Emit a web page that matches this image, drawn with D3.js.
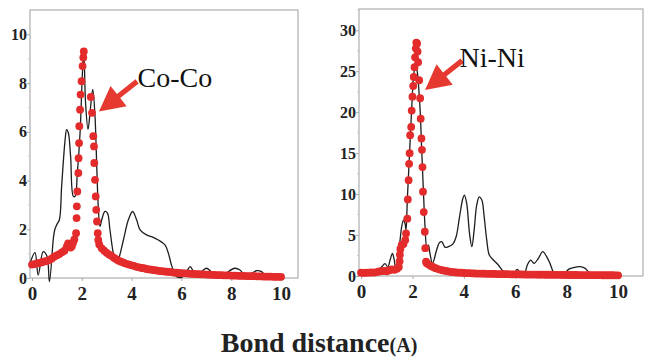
<!DOCTYPE html>
<html>
<head>
<meta charset="utf-8">
<script src="https://cdn.jsdelivr.net/npm/d3@7"></script>
<style>
body { margin: 0; background: #fff; }
svg { display: block; }
</style>
</head>
<body>
<svg class="chart"></svg>
<script>
// tick values
const xTicks = [0, 2, 4, 6, 8, 10];
const coTicksY = [0, 2, 4, 6, 8, 10];
const niTicksY = [0, 5, 10, 15, 20, 25, 30];
const labelNames = ["Co-Co", "Ni-Ni"];

// Co-Co: black curve (x, value)
const coLine = [
	[-0.08, 0.6], [0.12, 1.04], [0.25, 0.12], [0.45, 1.08], [0.6, 0.9], [0.7, -0.15],
	[0.86, 1.64], [0.92, 2.0], [0.99, 2.18], [1.1, 2.39], [1.19, 3.76], [1.33, 5.68],
	[1.39, 6.09], [1.46, 5.95], [1.55, 4.99], [1.66, 3.35], [1.73, 3.35], [1.82, 4.31],
	[1.93, 5.95], [2.02, 8.3], [2.08, 9.3], [2.15, 7.2], [2.25, 6.1], [2.35, 7.0],
	[2.44, 7.74], [2.53, 6.64], [2.6, 4.58], [2.66, 2.94], [2.73, 2.11], [2.8, 2.39],
	[2.93, 2.73], [3.03, 2.66], [3.13, 1.98], [3.27, 1.0], [3.4, 0.6], [3.47, 0.74],
	[3.67, 1.56], [3.87, 2.39], [4.04, 2.73], [4.2, 2.39], [4.34, 1.98], [4.6, 1.77],
	[4.87, 1.67], [5.07, 1.56], [5.34, 1.36], [5.48, 1.0], [5.6, 0.53], [5.7, 0.26],
	[5.81, 0.05], [6.0, 0.03], [6.21, 0.26], [6.35, 0.47], [6.48, 0.26], [6.61, 0.05],
	[6.81, 0.26], [7.0, 0.4], [7.2, 0.26], [7.4, 0.08], [7.68, 0.05], [7.88, 0.26],
	[8.15, 0.4], [8.35, 0.33], [8.55, 0.12], [8.82, 0.19], [9.02, 0.3], [9.22, 0.26],
	[9.42, 0.05], [9.83, 0.03], [10.0, 0.02]
];

// Co-Co: red dots (x, value)
const coDots = [
	[0, 0.55], [0.1, 0.57], [0.2, 0.6], [0.3, 0.62], [0.4, 0.65], [0.5, 0.68], [0.6, 0.7],
	[0.7, 0.74], [0.8, 0.8], [0.9, 0.88], [1.0, 0.93], [1.1, 0.98], [1.2, 1.05], [1.3, 1.12],
	[1.4, 1.3], [1.45, 1.42], [1.5, 1.38], [1.55, 1.25], [1.6, 1.3], [1.65, 1.45], [1.7, 1.58],
	[1.77, 1.84], [1.79, 2.46], [1.8, 2.94], [1.82, 3.55], [1.86, 4.31], [1.87, 4.92],
	[1.89, 5.54], [1.9, 6.23], [1.93, 6.91], [1.95, 7.53], [1.99, 8.08], [2.03, 8.7],
	[2.06, 9.05], [2.08, 9.3],
	[2.36, 7.43], [2.41, 6.78], [2.46, 5.82], [2.49, 5.4], [2.5, 4.72], [2.53, 4.03],
	[2.56, 3.35], [2.58, 2.8], [2.61, 2.32], [2.64, 1.84], [2.66, 1.56], [2.7, 1.38],
	[2.8, 1.22], [2.9, 1.12], [3.0, 1.03], [3.1, 0.96], [3.2, 0.9], [3.3, 0.82], [3.4, 0.76],
	[3.5, 0.7], [3.6, 0.66], [3.7, 0.62], [3.8, 0.58], [3.9, 0.55], [4.0, 0.52], [4.1, 0.5],
	[4.2, 0.46], [4.3, 0.44], [4.4, 0.41], [4.5, 0.4], [4.6, 0.37], [4.7, 0.35], [4.8, 0.34],
	[4.9, 0.32], [5.0, 0.31], [5.1, 0.29], [5.2, 0.28], [5.3, 0.27], [5.4, 0.26], [5.5, 0.25],
	[5.6, 0.24], [5.7, 0.22], [5.8, 0.22], [5.9, 0.21], [6.0, 0.2], [6.1, 0.19], [6.2, 0.19],
	[6.3, 0.18], [6.4, 0.17], [6.5, 0.17], [6.6, 0.16], [6.7, 0.16], [6.8, 0.15], [6.9, 0.15],
	[7.0, 0.14], [7.1, 0.14], [7.2, 0.13], [7.3, 0.13], [7.4, 0.12], [7.5, 0.12], [7.6, 0.12],
	[7.7, 0.11], [7.8, 0.11], [7.9, 0.11], [8.0, 0.1], [8.1, 0.1], [8.2, 0.1], [8.3, 0.09],
	[8.4, 0.09], [8.5, 0.09], [8.6, 0.08], [8.7, 0.08], [8.8, 0.08], [8.9, 0.08], [9.0, 0.07],
	[9.1, 0.07], [9.2, 0.07], [9.3, 0.06], [9.4, 0.06], [9.5, 0.06], [9.6, 0.06], [9.7, 0.05],
	[9.8, 0.05], [9.9, 0.05], [10.0, 0.05]
];

// Ni-Ni: black curve
const niLine = [
	[-0.06, 0.5], [0.2, 0.4], [0.45, 0.45], [0.67, 0.73], [0.8, 1.1], [0.93, 1.5], [1.04, 1.1],
	[1.13, 1.95], [1.22, 2.76], [1.28, 2.15], [1.36, 0.73], [1.49, 3.58], [1.58, 6.0],
	[1.65, 6.83], [1.71, 6.42], [1.75, 5.6], [1.8, 9.3], [1.88, 14.55], [1.96, 19.8],
	[2.04, 24.3], [2.09, 25.3], [2.14, 25.5], [2.19, 24.9], [2.24, 23.1], [2.3, 20.2],
	[2.36, 15.4], [2.43, 10.1], [2.49, 6.0], [2.56, 3.58], [2.62, 3.78], [2.68, 2.76],
	[2.78, 1.54], [2.94, 3.17], [3.05, 4.07], [3.14, 4.2], [3.27, 3.5], [3.4, 3.58],
	[3.57, 3.9], [3.7, 4.8], [3.83, 7.2], [3.96, 9.47], [4.02, 9.88], [4.11, 8.86],
	[4.22, 5.2], [4.31, 3.58], [4.4, 5.6], [4.5, 8.66], [4.6, 9.67], [4.7, 9.27],
	[4.79, 7.24], [4.89, 4.4], [4.99, 2.56], [5.15, 1.95], [5.34, 1.34], [5.54, 0.53],
	[5.73, 0.12], [5.93, 0.24], [6.08, 0.81], [6.23, 0.24], [6.34, 0.12], [6.47, 1.34],
	[6.6, 1.95], [6.73, 1.54], [6.9, 2.15], [7.07, 2.97], [7.22, 2.36], [7.35, 1.54],
	[7.48, 0.53], [7.64, 0.08], [7.87, 0.08], [8.07, 0.81], [8.26, 1.02], [8.52, 1.14],
	[8.72, 0.93], [8.85, 0.53], [9.04, 0.24], [9.23, 0.41], [9.43, 0.24], [9.69, 0.0],
	[10.0, 0.0]
];

// Ni-Ni: red dots
const niDots = [
	[0, 0.4], [0.1, 0.38], [0.2, 0.42], [0.3, 0.4], [0.4, 0.44], [0.5, 0.42], [0.6, 0.48],
	[0.7, 0.55], [0.8, 0.6], [0.9, 0.62], [1.0, 0.58], [1.1, 0.7], [1.2, 0.8], [1.3, 0.75],
	[1.4, 0.9], [1.47, 1.1], [1.5, 1.8], [1.51, 2.6], [1.53, 3.3], [1.58, 3.8], [1.65, 3.9],
	[1.72, 4.4], [1.75, 5.2], [1.8, 7.0], [1.82, 9.35], [1.85, 11.7], [1.87, 13.7],
	[1.89, 15.0], [1.91, 17.2], [1.95, 18.2], [1.97, 20.2], [2.0, 21.9], [2.03, 23.2],
	[2.05, 24.3], [2.08, 25.5], [2.1, 26.7], [2.13, 27.8], [2.15, 28.5], [2.18, 28.4],
	[2.2, 27.4], [2.22, 26.1], [2.26, 23.9], [2.3, 21.7], [2.32, 19.2], [2.35, 16.8],
	[2.37, 15.4], [2.39, 13.3], [2.41, 10.3], [2.44, 7.8], [2.48, 5.4], [2.5, 3.4],
	[2.53, 1.75], [2.55, 1.6], [2.6, 1.45], [2.7, 1.25], [2.8, 1.1], [2.9, 0.95], [3.0, 0.85],
	[3.1, 0.75], [3.2, 0.68], [3.3, 0.62], [3.4, 0.56], [3.5, 0.5], [3.6, 0.47], [3.7, 0.44],
	[3.8, 0.42], [3.9, 0.4], [4.0, 0.38], [4.1, 0.36], [4.2, 0.35], [4.3, 0.33], [4.4, 0.32],
	[4.5, 0.3], [4.6, 0.3], [4.7, 0.29], [4.8, 0.28], [4.9, 0.27], [5.0, 0.26], [5.1, 0.26],
	[5.2, 0.25], [5.3, 0.24], [5.4, 0.24], [5.5, 0.23], [5.6, 0.22], [5.7, 0.22], [5.8, 0.21],
	[5.9, 0.21], [6.0, 0.2], [6.1, 0.2], [6.2, 0.19], [6.3, 0.19], [6.4, 0.18], [6.5, 0.18],
	[6.6, 0.17], [6.7, 0.17], [6.8, 0.17], [6.9, 0.16], [7.0, 0.16], [7.1, 0.16], [7.2, 0.15],
	[7.3, 0.15], [7.4, 0.15], [7.5, 0.14], [7.6, 0.14], [7.7, 0.14], [7.8, 0.13], [7.9, 0.13],
	[8.0, 0.13], [8.1, 0.12], [8.2, 0.12], [8.3, 0.12], [8.4, 0.12], [8.5, 0.11], [8.6, 0.11],
	[8.7, 0.11], [8.8, 0.11], [8.9, 0.1], [9.0, 0.1], [9.1, 0.1], [9.2, 0.1], [9.3, 0.1],
	[9.4, 0.09], [9.5, 0.09], [9.6, 0.09], [9.7, 0.09], [9.8, 0.09], [9.9, 0.08], [10.0, 0.08]
];

const svgSize = { w: 648, h: 361 };
const svg = d3.select("svg.chart").attr("width", svgSize.w).attr("height", svgSize.h);

const red = "#e42b2b";
const serif = "Liberation Serif, Times New Roman, serif";

const panels = [
	{
		line: coLine, dots: coDots, yTicks: coTicksY, label: labelNames[0],
		box: { l: 30, r: 298, t: 10, b: 278 },
		xDomain: [-0.08, 10.68], yDomain: [0, 11], minorStep: 1,
		labelAt: [4.24, 7.84], arrowFrom: [4.22, 8.07], arrowTo: [2.69, 6.83]
	},
	{
		line: niLine, dots: niDots, yTicks: niTicksY, label: labelNames[1],
		box: { l: 359, r: 643, t: 9, b: 276 },
		xDomain: [-0.08, 10.97], yDomain: [0, 32.6], minorStep: 2.5,
		labelAt: [3.83, 25.5], arrowFrom: [3.93, 26.3], arrowTo: [2.49, 22.7]
	}
];

panels.forEach((p) => drawPanel(p));

function drawPanel(p) {
	const g = svg.append("g");
	const x = d3.scaleLinear().domain(p.xDomain).range([p.box.l, p.box.r]);
	const y = d3.scaleLinear().domain(p.yDomain).range([p.box.b, p.box.t]);

	// frame
	g.append("rect")
		.attr("x", p.box.l).attr("y", p.box.t)
		.attr("width", p.box.r - p.box.l).attr("height", p.box.b - p.box.t)
		.attr("fill", "none").attr("stroke", "#b9b9b9").attr("stroke-width", 1.4);

	// minor y ticks
	const minor = d3.range(p.yDomain[0], p.yDomain[1], p.minorStep)
		.filter((v) => p.yTicks.indexOf(v) === -1);
	g.selectAll("line.minor").data(minor).join("line")
		.attr("x1", p.box.l - 2).attr("x2", p.box.l)
		.attr("y1", (d) => y(d)).attr("y2", (d) => y(d))
		.attr("stroke", "#ccc");

	const yAxis = g.append("g")
		.attr("transform", `translate(${p.box.l},0)`)
		.call(d3.axisLeft(y).tickValues(p.yTicks).tickSize(3).tickPadding(0));
	yAxis.select(".domain").remove();
	yAxis.selectAll(".tick line").attr("stroke", "#aaa");
	yAxis.selectAll(".tick text")
		.attr("font-family", serif)
		.attr("font-weight", "bold")
		.attr("font-size", 16)
		.attr("fill", "#222");

	const xAxis = g.append("g")
		.attr("transform", `translate(0,${p.box.b})`)
		.call(d3.axisBottom(x).tickValues(xTicks).tickSize(3).tickPadding(6));
	xAxis.select(".domain").remove();
	xAxis.selectAll(".tick line").attr("stroke", "#aaa");
	xAxis.selectAll(".tick text")
		.attr("font-family", serif)
		.attr("font-weight", "bold")
		.attr("font-size", 19)
		.attr("fill", "#222");

	// black curve
	const line = d3.line().x((d) => x(d[0])).y((d) => y(d[1])).curve(d3.curveCatmullRom);
	g.append("path")
		.datum(p.line)
		.attr("d", line)
		.attr("fill", "none")
		.attr("stroke", "#1e1e1e")
		.attr("stroke-width", 1.3);

	// red dots
	g.selectAll("circle.dot").data(p.dots).join("circle")
		.attr("class", "dot")
		.attr("cx", (d) => x(d[0]))
		.attr("cy", (d) => y(d[1]))
		.attr("r", 3.9)
		.attr("fill", red);

	// arrow
	drawArrow(g, [x(p.arrowFrom[0]), y(p.arrowFrom[1])], [x(p.arrowTo[0]), y(p.arrowTo[1])]);

	g.append("text")
		.attr("x", x(p.labelAt[0]))
		.attr("y", y(p.labelAt[1]))
		.attr("font-family", serif)
		.attr("font-size", 28)
		.attr("fill", "#111")
		.text(p.label);
}

function drawArrow(g, from, to) {
	const dx = to[0] - from[0], dy = to[1] - from[1];
	const len = Math.sqrt(dx * dx + dy * dy);
	const ux = dx / len, uy = dy / len;
	const nx = -uy, ny = ux;
	const headLen = 25, headW = 13, shaftW = 2.6;
	const bx = to[0] - ux * headLen, by = to[1] - uy * headLen;
	const pts = [
		[from[0] + nx * shaftW, from[1] + ny * shaftW],
		[bx + nx * shaftW, by + ny * shaftW],
		[bx + nx * headW, by + ny * headW],
		to,
		[bx - nx * headW, by - ny * headW],
		[bx - nx * shaftW, by - ny * shaftW],
		[from[0] - nx * shaftW, from[1] - ny * shaftW]
	];
	g.append("path")
		.attr("d", "M" + pts.map((d) => d.join(",")).join("L") + "Z")
		.attr("fill", "#e63a30");
}

// shared x title
const title = svg.append("text")
	.attr("x", 319)
	.attr("y", 352)
	.attr("text-anchor", "middle")
	.attr("font-family", serif)
	.attr("font-weight", "bold")
	.attr("font-size", 28)
	.attr("fill", "#222");
title.append("tspan").text("Bond distance");
title.append("tspan").attr("font-size", 20).text("(A)");
</script>
</body>
</html>
